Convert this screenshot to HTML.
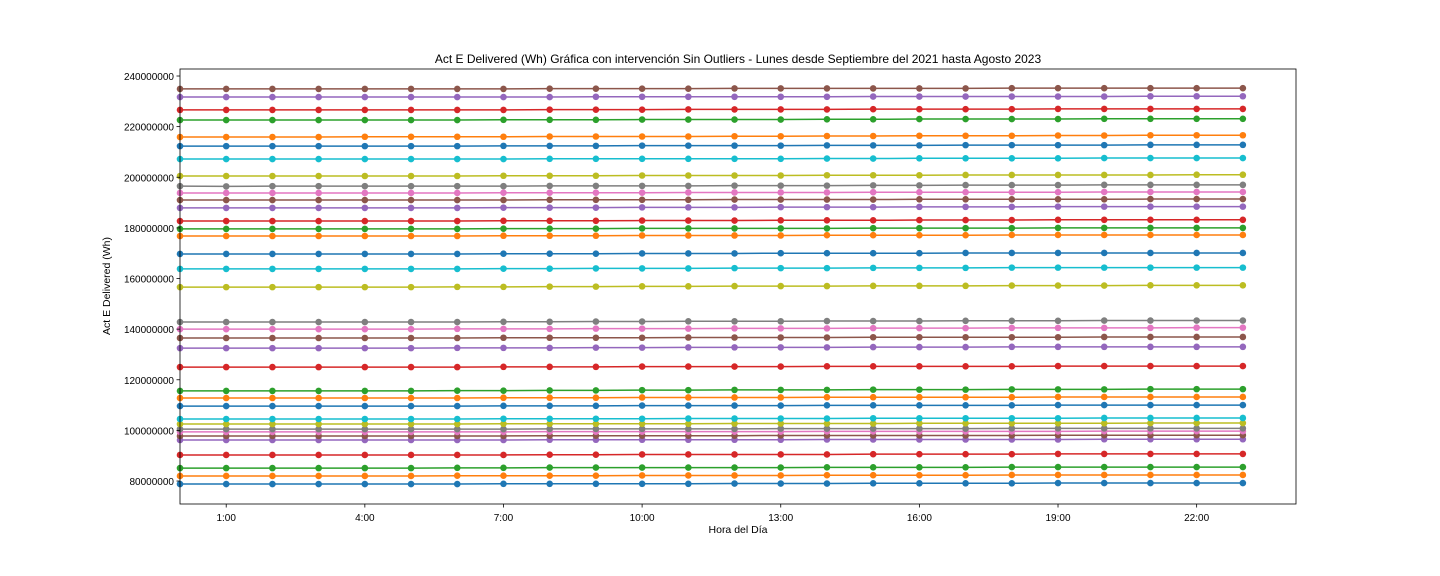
<!DOCTYPE html>
<html><head><meta charset="utf-8"><style>
html,body{margin:0;padding:0;background:#fff}
svg{display:block;font-family:"Liberation Sans",sans-serif}
</style></head><body>
<svg id="chart" width="1440" height="576" xmlns="http://www.w3.org/2000/svg">
<rect width="1440" height="576" fill="#fff"/>
<text x="738" y="63" text-anchor="middle" font-size="12" fill="#000">Act E Delivered (Wh) Gráfica con intervención Sin Outliers - Lunes desde Septiembre del 2021 hasta Agosto 2023</text>
<g id="marks"></g>
<g id="axes"></g>
<text x="738" y="533" text-anchor="middle" font-size="10.5">Hora del Día</text>
<text transform="translate(110,286) rotate(-90)" text-anchor="middle" font-size="10.5">Act E Delivered (Wh)</text>
</svg>
<script>
const hours = [0,1,2,3,4,5,6,7,8,9,10,11,12,13,14,15,16,17,18,19,20,21,22,23];
const xTicks = [1,4,7,10,13,16,19,22];
const xTickLabels = ["1:00","4:00","7:00","10:00","13:00","16:00","19:00","22:00"];
const yTicks = [80000000,100000000,120000000,140000000,160000000,180000000,200000000,220000000,240000000];
const colors = ["#1f77b4","#ff7f0e","#2ca02c","#d62728","#9467bd","#8c564b","#e377c2","#7f7f7f","#bcbd22","#17becf"];
// values in millions of Wh, one array per series (bottom to top)
const s00=[78.8,78.8,78.8,78.8,78.8,78.8,78.8,78.9,78.9,78.9,78.9,78.9,79.0,79.0,79.0,79.1,79.1,79.1,79.1,79.2,79.2,79.2,79.2,79.2];
const s01=[82.0,82.0,82.0,82.0,82.0,82.0,82.1,82.1,82.1,82.1,82.2,82.2,82.2,82.2,82.3,82.3,82.3,82.3,82.4,82.4,82.4,82.4,82.4,82.4];
const s02=[85.1,85.1,85.1,85.1,85.1,85.1,85.2,85.2,85.3,85.3,85.3,85.3,85.3,85.3,85.4,85.4,85.4,85.4,85.5,85.5,85.5,85.5,85.5,85.5];
const s03=[90.3,90.3,90.3,90.3,90.3,90.3,90.3,90.3,90.4,90.4,90.5,90.5,90.5,90.5,90.5,90.6,90.6,90.6,90.6,90.7,90.7,90.7,90.7,90.7];
const s04=[96.2,96.2,96.2,96.2,96.2,96.2,96.2,96.2,96.3,96.3,96.3,96.3,96.3,96.3,96.4,96.4,96.4,96.4,96.4,96.4,96.5,96.5,96.5,96.5];
const s05=[97.8,97.8,97.8,97.8,97.8,97.8,97.8,97.8,97.9,97.9,97.9,97.9,97.9,98.0,98.0,98.0,98.0,98.0,98.0,98.1,98.1,98.1,98.1,98.1];
const s06=[99.4,99.4,99.4,99.4,99.4,99.4,99.4,99.4,99.5,99.5,99.5,99.5,99.5,99.5,99.6,99.6,99.6,99.6,99.6,99.6,99.7,99.7,99.7,99.7];
const s07=[100.5,100.5,100.5,100.5,100.5,100.5,100.5,100.5,100.6,100.6,100.6,100.6,100.6,100.7,100.7,100.7,100.7,100.7,100.8,100.8,100.8,100.8,100.8,100.8];
const s08=[102.5,102.5,102.5,102.5,102.5,102.5,102.5,102.6,102.6,102.6,102.6,102.6,102.7,102.7,102.7,102.7,102.8,102.8,102.8,102.8,102.8,102.9,102.9,102.9];
const s09=[104.5,104.5,104.5,104.5,104.5,104.5,104.5,104.6,104.6,104.6,104.6,104.7,104.7,104.7,104.7,104.8,104.8,104.8,104.8,104.8,104.9,104.9,104.9,104.9];
const s10=[109.6,109.6,109.6,109.6,109.6,109.6,109.6,109.7,109.7,109.7,109.8,109.8,109.8,109.8,109.9,109.9,109.9,109.9,109.9,110.0,110.0,110.0,110.0,110.0];
const s11=[112.8,112.8,112.8,112.8,112.8,112.8,112.8,112.9,112.9,112.9,113.0,113.0,113.0,113.0,113.1,113.1,113.1,113.1,113.1,113.2,113.2,113.2,113.2,113.2];
const s12=[115.6,115.6,115.6,115.6,115.6,115.6,115.7,115.7,115.8,115.8,115.9,115.9,116.0,116.0,116.0,116.1,116.1,116.1,116.2,116.2,116.2,116.3,116.3,116.3];
const s13=[125.0,125.0,125.0,125.0,125.0,125.0,125.0,125.1,125.1,125.1,125.2,125.2,125.2,125.2,125.3,125.3,125.3,125.3,125.3,125.4,125.4,125.4,125.4,125.4];
const s14=[132.5,132.5,132.5,132.5,132.5,132.5,132.6,132.6,132.6,132.7,132.7,132.8,132.8,132.8,132.8,132.9,132.9,132.9,133.0,133.0,133.0,133.0,133.0,133.0];
const s15=[136.5,136.5,136.5,136.5,136.5,136.5,136.5,136.6,136.6,136.6,136.6,136.7,136.7,136.7,136.7,136.8,136.8,136.8,136.8,136.8,136.9,136.9,136.9,136.9];
const s16=[140.0,140.0,140.0,140.0,140.0,140.0,140.1,140.1,140.1,140.2,140.2,140.2,140.3,140.3,140.3,140.4,140.4,140.4,140.5,140.5,140.5,140.5,140.6,140.6];
const s17=[142.8,142.8,142.8,142.8,142.8,142.8,142.8,142.9,142.9,143.0,143.0,143.1,143.1,143.1,143.2,143.2,143.2,143.3,143.3,143.3,143.4,143.4,143.4,143.4];
const s18=[156.6,156.6,156.6,156.6,156.6,156.6,156.7,156.7,156.8,156.8,156.9,156.9,157.0,157.0,157.0,157.1,157.1,157.1,157.2,157.2,157.2,157.3,157.3,157.3];
const s19=[163.8,163.8,163.8,163.8,163.8,163.8,163.8,163.9,163.9,164.0,164.0,164.0,164.1,164.1,164.1,164.2,164.2,164.2,164.3,164.3,164.3,164.3,164.3,164.3];
const s20=[169.7,169.7,169.7,169.7,169.7,169.7,169.7,169.8,169.8,169.8,169.9,169.9,169.9,170.0,170.0,170.0,170.0,170.1,170.1,170.1,170.1,170.1,170.1,170.1];
const s21=[176.8,176.8,176.8,176.8,176.8,176.8,176.8,176.9,176.9,176.9,177.0,177.0,177.0,177.0,177.1,177.1,177.1,177.1,177.2,177.2,177.2,177.2,177.2,177.2];
const s22=[179.6,179.6,179.6,179.6,179.6,179.6,179.6,179.7,179.7,179.7,179.8,179.8,179.8,179.8,179.8,179.9,179.9,179.9,179.9,180.0,180.0,180.0,180.0,180.0];
const s23=[182.7,182.7,182.7,182.7,182.7,182.7,182.7,182.8,182.8,182.8,182.9,182.9,182.9,183.0,183.0,183.0,183.1,183.1,183.1,183.2,183.2,183.2,183.2,183.2];
const s24=[187.9,187.9,187.9,187.9,187.9,187.9,187.9,188.0,188.0,188.0,188.1,188.1,188.1,188.2,188.2,188.2,188.3,188.3,188.3,188.4,188.4,188.4,188.4,188.4];
const s25=[191.0,191.0,191.0,191.0,191.0,191.0,191.0,191.0,191.1,191.1,191.1,191.1,191.2,191.2,191.2,191.2,191.3,191.3,191.3,191.3,191.3,191.4,191.4,191.4];
const s26=[193.8,193.8,193.8,193.8,193.8,193.8,193.8,193.9,193.9,193.9,193.9,194.0,194.0,194.0,194.0,194.1,194.1,194.1,194.1,194.1,194.2,194.2,194.2,194.2];
const s27=[196.5,196.4,196.5,196.5,196.5,196.5,196.5,196.5,196.6,196.6,196.6,196.6,196.7,196.7,196.7,196.8,196.8,196.9,196.9,196.9,197.0,197.0,197.0,197.0];
const s28=[200.5,200.5,200.5,200.5,200.5,200.5,200.5,200.6,200.6,200.6,200.7,200.7,200.7,200.7,200.8,200.8,200.8,200.9,200.9,200.9,200.9,200.9,201.0,201.0];
const s29=[207.2,207.2,207.2,207.2,207.2,207.2,207.2,207.2,207.3,207.3,207.3,207.3,207.3,207.3,207.4,207.4,207.5,207.5,207.5,207.5,207.6,207.6,207.6,207.6];
const s30=[212.3,212.3,212.3,212.3,212.3,212.3,212.3,212.4,212.4,212.4,212.5,212.5,212.5,212.5,212.6,212.6,212.6,212.7,212.7,212.7,212.7,212.8,212.8,212.8];
const s31=[215.9,215.9,215.9,215.9,216.0,216.0,216.0,216.0,216.1,216.1,216.1,216.1,216.2,216.2,216.3,216.3,216.4,216.4,216.4,216.5,216.5,216.6,216.6,216.6];
const s32=[222.6,222.6,222.6,222.6,222.6,222.6,222.6,222.7,222.7,222.7,222.8,222.8,222.8,222.8,222.9,222.9,223.0,223.0,223.0,223.0,223.1,223.1,223.1,223.1];
const s33=[226.6,226.6,226.6,226.6,226.6,226.6,226.6,226.6,226.7,226.7,226.7,226.8,226.8,226.8,226.8,226.9,226.9,226.9,226.9,227.0,227.0,227.0,227.0,227.0];
const s34=[231.7,231.7,231.7,231.7,231.7,231.7,231.7,231.7,231.7,231.8,231.8,231.8,231.8,231.8,231.8,231.9,231.9,231.9,231.9,231.9,231.9,232.0,232.0,232.0];
const s35=[234.9,234.9,234.9,234.9,234.9,234.9,234.9,234.9,235.0,235.0,235.0,235.0,235.1,235.1,235.1,235.1,235.1,235.1,235.2,235.2,235.2,235.2,235.2,235.2];
const series=[s00,s01,s02,s03,s04,s05,s06,s07,s08,s09,s10,s11,s12,s13,s14,s15,s16,s17,s18,s19,s20,s21,s22,s23,s24,s25,s26,s27,s28,s29,s30,s31,s32,s33,s34,s35];

const NS="http://www.w3.org/2000/svg";
const L=180,R=1296,T=69,B=504;
const xMin=0,xMax=24.15;
const yMin=70.92e6,yMax=242.77e6;
function xs(v){return L+(v-xMin)/(xMax-xMin)*(R-L);}
function ys(v){return B-(v-yMin)/(yMax-yMin)*(B-T);}
function mk(tag,attrs){const e=document.createElementNS(NS,tag);for(const k in attrs)e.setAttribute(k,attrs[k]);return e;}
const marks=document.getElementById('marks');
series.forEach((s,i)=>{
  const c=colors[i%10];
  const g=mk('g',{});
  
  
  const pts=s.map((v,j)=>xs(hours[j]).toFixed(2)+','+ys(v*1e6).toFixed(2)).join(' ');
  const pl=mk('polyline',{points:pts,fill:'none',stroke:c,'stroke-width':1.5});
  
  
  g.appendChild(pl);
  s.forEach((v,j)=>{
    const ci=mk('circle',{cx:xs(hours[j]),cy:ys(v*1e6),r:3.3,fill:c});
    
    
    g.appendChild(ci);
  });
  marks.appendChild(g);
});
const axes=document.getElementById('axes');
const frame=mk('rect',{x:L,y:T,width:R-L,height:B-T,fill:'none',stroke:'#000','stroke-width':0.8});


axes.appendChild(frame);
xTicks.forEach((t,i)=>{
  const x=xs(t);
  const ln=mk('line',{x1:x,x2:x,y1:B,y2:B+3.5,stroke:'#000','stroke-width':0.8});
  
  
  axes.appendChild(ln);
  const tx=mk('text',{x:x,y:B+17,'text-anchor':'middle','font-size':10});
  
  
  tx.textContent=xTickLabels[i];
  axes.appendChild(tx);
});
yTicks.forEach(t=>{
  const y=ys(t);
  const ln=mk('line',{x1:L-3.5,x2:L,y1:y,y2:y,stroke:'#000','stroke-width':0.8});
  
  
  axes.appendChild(ln);
  const tx=mk('text',{x:L-6,y:y+4,'text-anchor':'end','font-size':10});
  
  
  tx.textContent=String(t);
  axes.appendChild(tx);
});
</script>
</body></html>
